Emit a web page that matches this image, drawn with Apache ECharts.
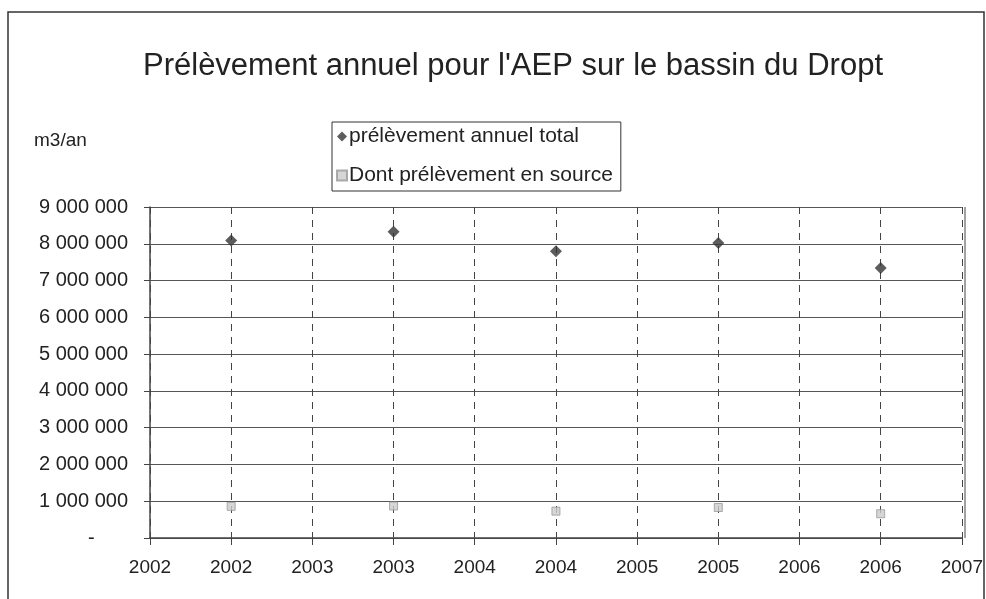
<!DOCTYPE html>
<html>
<head>
<meta charset="utf-8">
<script src="https://cdn.jsdelivr.net/npm/echarts@6/dist/echarts.min.js"></script>
<style>
  html, body { margin: 0; padding: 0; background: #fff; }
  #chart { width: 986px; height: 599px; }
</style>
</head>
<body>
<div id="chart"></div>
<script>
// années et prélèvements
const years = [2002, 2003, 2004, 2005, 2006]
const totalAnnuel = [8090000, 8330000, 7800000, 8020000, 7340000]
const dontSource = [860000, 870000, 730000, 830000, 660000]

const chart = echarts.init(document.getElementById('chart'))

// format "9 000 000", zéro affiché comme un tiret
const formatNombre = (v) => {
  if (v === 0) return '-      '
  return String(Math.round(v)).replace(/\B(?=(\d{3})+(?!\d))/g, ' ')
}

const font = '"Liberation Sans", Arial, sans-serif'

chart.setOption({
  backgroundColor: '#fff',
  textStyle: { fontFamily: font },
  title: {
    text: "Prélèvement annuel pour l'AEP sur le bassin du Dropt",
    left: 508,
    textAlign: 'center',
    top: 46,
    textStyle: { fontSize: 31, fontWeight: 'normal', color: '#222', fontFamily: font }
  },
  graphic: [
    {
      type: 'rect',
      shape: { x: 8, y: 12, width: 976, height: 620 },
      style: { fill: 'none', stroke: '#333', lineWidth: 1.5 }
    },
    {
      type: 'text',
      left: 34,
      top: 131,
      style: { text: 'm3/an', fontSize: 19, fill: '#222', fontFamily: font }
    },
    {
      type: 'line',
      shape: { x1: 965, y1: 207, x2: 965, y2: 538 },
      style: { stroke: '#444', lineWidth: 1 }
    }
  ],
  legend: {
    left: 332,
    top: 122,
    orient: 'vertical',
    itemGap: 18,
    itemWidth: 10,
    itemHeight: 10,
    padding: [4, 8, 5, 4],
    borderColor: '#333',
    borderWidth: 1,
    textStyle: { fontSize: 21, color: '#222', fontFamily: font, padding: [0, 0, 0, -3] },
    data: ['prélèvement annuel total', 'Dont prélèvement en source']
  },
  grid: { left: 150, right: 21, top: 207, bottom: 61 },
  xAxis: {
    type: 'value',
    min: 2001.5,
    max: 2006.5,
    interval: 0.5,
    axisLine: { show: true, lineStyle: { color: '#444', width: 1.5 } },
    axisTick: { show: true, length: 7, lineStyle: { color: '#444' } },
    axisLabel: {
      color: '#222',
      fontSize: 19,
      margin: 20,
      showMinLabel: true,
      showMaxLabel: true,
      formatter: (v) => String(Math.round(v))
    },
    splitLine: { show: true, lineStyle: { color: '#444', type: [7, 6], width: 1 } }
  },
  yAxis: {
    type: 'value',
    min: 0,
    max: 9000000,
    interval: 1000000,
    axisLine: { show: true, lineStyle: { color: '#444', width: 1.5 } },
    axisTick: { show: true, length: 6, lineStyle: { color: '#444' } },
    axisLabel: { color: '#222', fontSize: 20, margin: 22, formatter: formatNombre },
    splitLine: { show: true, lineStyle: { color: '#555', width: 1 } }
  },
  series: [
    {
      name: 'prélèvement annuel total',
      type: 'scatter',
      symbol: 'diamond',
      symbolSize: 12,
      itemStyle: { color: '#333' },
      data: years.map((y, i) => [y, totalAnnuel[i]])
    },
    {
      name: 'Dont prélèvement en source',
      type: 'scatter',
      symbol: 'rect',
      symbolSize: 8,
      itemStyle: { color: '#ccc', borderColor: '#999', borderWidth: 1 },
      data: years.map((y, i) => [y, dontSource[i]])
    }
  ]
})
</script>
</body>
</html>
